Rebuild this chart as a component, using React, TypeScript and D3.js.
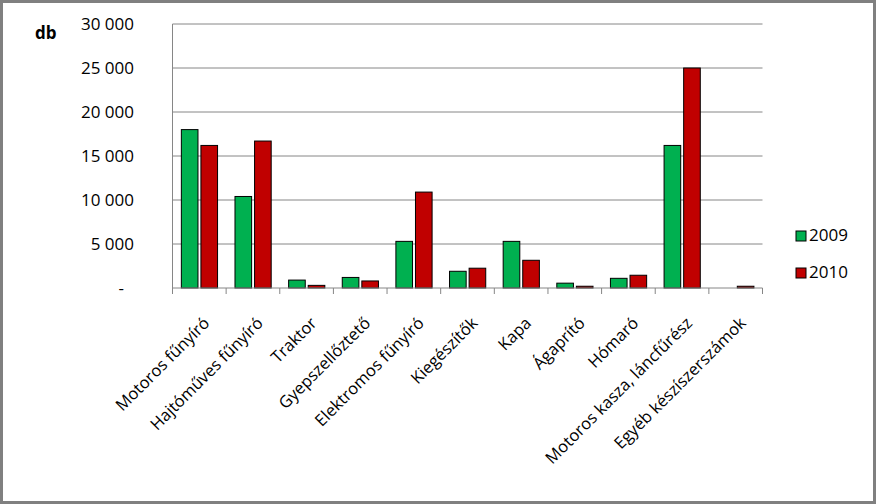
import React from "react";
import * as d3 from "d3";

const categories = [
  "Motoros fűnyíró",
  "Hajtóműves fűnyíró",
  "Traktor",
  "Gyepszellőztető",
  "Elektromos fűnyíró",
  "Kiegészítők",
  "Kapa",
  "Ágaprító",
  "Hómaró",
  "Motoros kasza, láncfűrész",
  "Egyéb készíszerszámok",
];
const values2009 = [18000, 10400, 900, 1200, 5300, 1900, 5300, 550, 1100, 16200, 0];
const values2010 = [16200, 16700, 300, 800, 10900, 2250, 3150, 200, 1450, 25000, 200];
const seriesNames = ["2009", "2010"];
const yTicks = [0, 5000, 10000, 15000, 20000, 25000, 30000];

const W = 876;
const H = 504;
const plot = { left: 172.5, right: 762.5, top: 24, bottom: 288 };
const FONT = "'Open Sans', 'Noto Sans', sans-serif";

export default function App() {
  const x = d3.scaleBand<string>().domain(categories).range([plot.left, plot.right]).padding(0);
  const y = d3.scaleLinear().domain([0, 30000]).range([plot.bottom, plot.top]);
  const bw = x.bandwidth();
  const barW = bw * 0.31;
  const fmt = (v: number) => (v === 0 ? "-" : d3.format(",")(v).replace(/,/g, " "));
  const colors = ["#00b050", "#c00000"];
  const series = [values2009, values2010];

  return (
    <svg width={W} height={H} style={{ position: "absolute", left: 0, top: 0 }}>
      <rect x={1.5} y={1.5} width={W - 3} height={H - 3} fill="#fff" stroke="#808080" strokeWidth={3} />
      {yTicks.map((t) => (
        <g key={t}>
          {t > 0 && (
            <line x1={plot.left} x2={plot.right} y1={y(t)} y2={y(t)} stroke="#868686" strokeWidth={1} />
          )}
          <text
            x={t === 0 ? 124 : 134}
            y={y(t) + 6}
            textAnchor="end"
            fontFamily={FONT}
            fontSize={17}
            fill="#000"
          >
            {fmt(t)}
          </text>
        </g>
      ))}
      <text x={35} y={39} fontFamily={FONT} fontSize={17} fontWeight="bold">
        db
      </text>
      {categories.map((c, i) => {
        const x0 = x(c)!;
        return (
          <g key={c}>
            {series.map((s, k) => {
              const v = s[i];
              if (!v) return null;
              const bx = x0 + bw * 0.165 + k * (barW + bw * 0.055);
              return (
                <rect
                  key={k}
                  x={bx}
                  y={y(v)}
                  width={barW}
                  height={plot.bottom - y(v)}
                  fill={colors[k]}
                  stroke="#000"
                  strokeWidth={1}
                />
              );
            })}
          </g>
        );
      })}
      <line x1={plot.left} x2={plot.left} y1={plot.top} y2={plot.bottom} stroke="#868686" />
      <line x1={plot.left} x2={plot.right} y1={plot.bottom} y2={plot.bottom} stroke="#868686" />
      {categories.concat(["__end"]).map((c, i) => {
        const tx = plot.left + i * bw;
        return <line key={c} x1={tx} x2={tx} y1={plot.bottom} y2={plot.bottom + 6} stroke="#868686" />;
      })}
      {categories.map((c) => {
        const cx = x(c)! + bw / 2 + 3;
        const cy = plot.bottom + 28;
        return (
          <text
            key={c}
            transform={`translate(${cx},${cy}) rotate(-45)`}
            textAnchor="end"
            dy="0.7em"
            fontFamily={FONT}
            fontSize={16.5}
          >
            {c}
          </text>
        );
      })}
      {seriesNames.map((n, k) => (
        <g key={n}>
          <rect x={796} y={231 + k * 37} width={10} height={10} fill={colors[k]} stroke="#000" strokeWidth={1} />
          <text x={809} y={241 + k * 37} fontFamily={FONT} fontSize={17}>
            {n}
          </text>
        </g>
      ))}
    </svg>
  );
}
